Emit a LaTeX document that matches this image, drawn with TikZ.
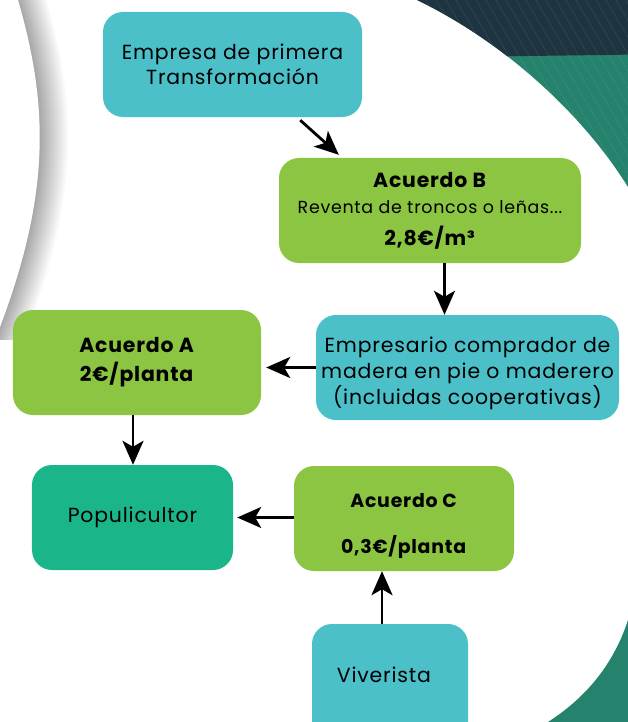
\documentclass[tikz,border=0pt]{standalone}
\usepackage{fontspec}
\setmainfont[LetterSpace=4]{Poppins}
\usetikzlibrary{arrows.meta}
\definecolor{cyanbox}{HTML}{4BC0C9}
\definecolor{greenbox}{HTML}{8BC542}
\definecolor{tealbox}{HTML}{1BB58A}
\definecolor{navybg}{HTML}{1F3441}
\definecolor{tealbg}{HTML}{25826C}
\begin{document}
\begin{tikzpicture}[x=1bp,y=-1bp,
  txt/.style={inner sep=0pt, align=center, font=\fontsize{20.5}{25}\selectfont},
  box/.style={txt, rounded corners=20bp},
  cbox/.style={box, fill=cyanbox},
  gbox/.style={box, fill=greenbox},
  tbox/.style={box, fill=tealbox},
  arr/.style={line width=2.8bp, -{Stealth[length=24bp,width=21bp,inset=6bp]}},
  stripe/.style={white, opacity=0.07, line width=0.8bp}]
\useasboundingbox (0,0) rectangle (628,722);
\begin{scope}
  \clip (0,0) rectangle (628,722);
  \fill[white] (-5,-5) rectangle (640,730);
  % page-curl shadow on the left
  \foreach \k in {0,...,29} {
    \fill[black, opacity=0.012, xshift=\k bp]
      (18,0) .. controls (50,110) and (50,200) .. (-5,340) -- (-60,340) -- (-60,-10) -- (18,-10) -- cycle;
  }
  \fill[white] (18,0) .. controls (50,110) and (50,200) .. (-5,340) -- (-60,340) -- (-60,-10) -- (18,-10) -- cycle;
  % top right decoration
  \begin{scope}
    \clip (417,0) .. controls (500,40) and (580,110) .. (628,187) -- (640,187) -- (640,-10) -- (417,-10) -- cycle;
    \fill[tealbg] (380,-10) rectangle (640,200);
    \fill[navybg] (380,-10) -- (640,-10) -- (640,54.5) -- (380,58) -- cycle;
    \foreach \i in {0,...,40} {
      \draw[stripe] (250+\i*10,-10) -- ++(130,220);
    }
  \end{scope}
  % bottom right decoration
  \fill[tealbg] (628,620) .. controls (615,660) and (590,695) .. (548,722) -- (640,730) -- (640,620) -- cycle;
\end{scope}

\node[cbox, minimum width=259bp, minimum height=105bp] (emp) at (232.5,64.5)
  {Empresa de primera\\Transformación};
\node[gbox, minimum width=302bp, minimum height=105bp] (accB) at (430,210.5)
  {\textbf{Acuerdo B}\\[1bp]{\fontsize{17.5}{20}\selectfont Reventa de troncos o leñas...}\\[7bp]\textbf{2,8€/m³}};
\node[cbox, minimum width=303bp, minimum height=105bp] (empr) at (467.5,367.5) {};
\node[txt, font=\fontsize{20.5}{26}\selectfont] (emprt) at (467.5,373)
  {Empresario comprador de\\madera en pie o maderero\\(incluidas cooperativas)};
\node[gbox, minimum width=248bp, minimum height=105bp] (accA) at (137,362.5)
  {\textbf{Acuerdo A}\\[4bp]\textbf{2€/planta}};
\node[tbox, minimum width=201bp, minimum height=105bp] (pop) at (132.5,517.5)
  {Populicultor};
\node[gbox, minimum width=220bp, minimum height=105bp] (accC) at (404,518.5) {};
\node[txt, font=\fontsize{19}{25}\selectfont] (accCt) at (404,526)
  {\textbf{Acuerdo C}\\[21bp]\textbf{0,3€/planta}};
\node[cbox, minimum width=156bp, minimum height=120bp] (viv) at (390,684) {};
\node[txt] (vivt) at (384,675) {Viverista};

\draw[arr] ([xshift=-62bp,yshift=-3bp]emp.south east) -- ([xshift=60bp,yshift=3bp]accB.north west);
\draw[arr] ([xshift=14.5bp]accB.south) -- ([xshift=14.5bp]accB.south |- empr.north);
\draw[arr] (empr.west) -- ([xshift=5bp]accA.east |- empr.west);
\draw[arr] ([xshift=-4bp]accA.south) -- ([xshift=-4bp]accA.south |- pop.north);
\draw[arr] (accC.west |- pop.east) -- ([xshift=4bp]pop.east);
\draw[arr] ([xshift=-8bp]viv.north) -- ([xshift=-8bp]viv.north |- accC.south);
\end{tikzpicture}
\end{document}
